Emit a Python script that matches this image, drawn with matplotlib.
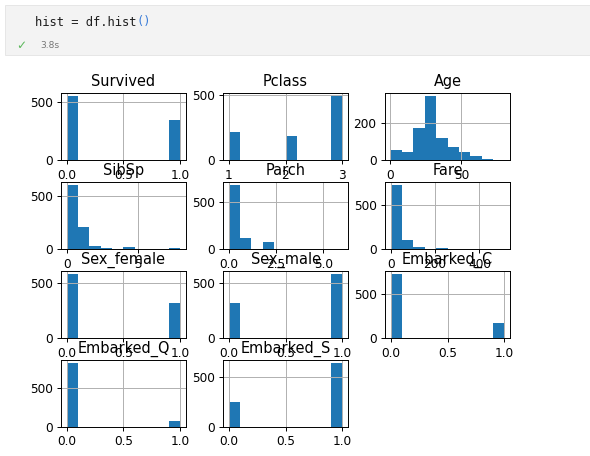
import matplotlib.pyplot as plt
import numpy as np

# column names, value ranges and the 10 bin counts of each histogram
columns = ["Survived", "Pclass", "Age", "SibSp", "Parch", "Fare",
           "Sex_female", "Sex_male", "Embarked_C", "Embarked_Q", "Embarked_S"]
col_min = [0, 1, 0.42, 0, 0, 0, 0, 0, 0, 0, 0]
col_max = [1, 3, 80, 8, 6, 512.33, 1, 1, 1, 1, 1]

survived = [549, 0, 0, 0, 0, 0, 0, 0, 0, 342]
pclass = [216, 0, 0, 0, 0, 184, 0, 0, 0, 491]
age = [54, 46, 177, 346, 118, 70, 45, 24, 9, 2]
sibsp = [608, 209, 28, 16, 0, 18, 5, 0, 0, 7]
parch = [678, 118, 0, 80, 0, 5, 4, 0, 5, 1]
fare = [732, 106, 31, 2, 11, 6, 0, 0, 0, 3]
sex_female = [577, 0, 0, 0, 0, 0, 0, 0, 0, 314]
sex_male = [314, 0, 0, 0, 0, 0, 0, 0, 0, 577]
embarked_c = [723, 0, 0, 0, 0, 0, 0, 0, 0, 168]
embarked_q = [814, 0, 0, 0, 0, 0, 0, 0, 0, 77]
embarked_s = [247, 0, 0, 0, 0, 0, 0, 0, 0, 644]

counts = [survived, pclass, age, sibsp, parch, fare,
          sex_female, sex_male, embarked_c, embarked_q, embarked_s]

dpi = 87
fig, axes = plt.subplots(4, 3, figsize=(590 / dpi, 456 / dpi), dpi=dpi)
fig.subplots_adjust(left=61 / 590, right=510 / 590, top=1 - 93 / 456,
                    bottom=1 - 427 / 456, wspace=0.296, hspace=0.32)

for i, ax in enumerate(axes.flat):
    if i >= len(columns):
        ax.set_visible(False)
        continue
    edges = np.linspace(col_min[i], col_max[i], 11)
    centers = (edges[:-1] + edges[1:]) / 2
    ax.hist(centers, bins=edges, weights=counts[i], color="#1f77b4")
    ax.set_title(columns[i])
    ax.grid(True)

# notebook cell header above the output
fig.patches.append(plt.Rectangle((5 / 590, 1 - 55 / 456), 1, 50 / 456,
                                 transform=fig.transFigure, facecolor="#f3f3f3",
                                 edgecolor="#e6e6e6", linewidth=0.8))
code_size = 10
char_w = code_size * dpi / 72 * 0.602
fig.text(35 / 590, 1 - 22 / 456, "hist = df.hist", family="DejaVu Sans Mono",
         fontsize=code_size, color="#1f1f1f", va="center")
fig.text((35 + 14 * char_w) / 590, 1 - 22 / 456, "()", family="DejaVu Sans Mono",
         fontsize=code_size, color="#3b7dd8", va="center")
fig.text(16 / 590, 1 - 46 / 456, "\u2713", fontsize=10, color="#5cb85c", va="center")
fig.text(40 / 590, 1 - 46 / 456, "3.8s", fontsize=7.5, color="#777777", va="center")

fig.savefig("out.png", dpi=dpi)
